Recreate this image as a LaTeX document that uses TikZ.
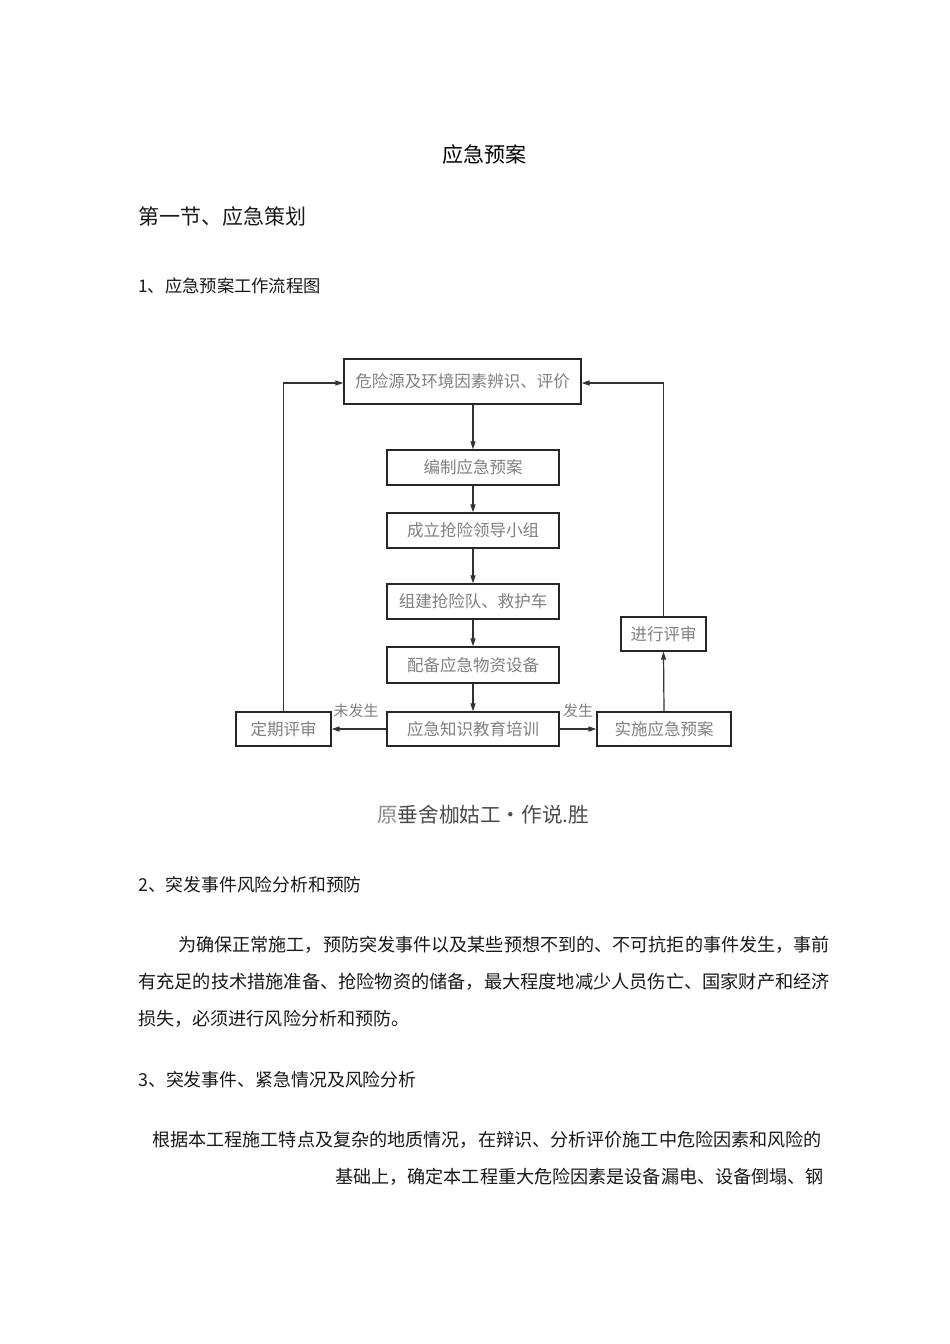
\documentclass[tikz,border=0pt]{standalone}
\usepackage{fontspec}
\setmainfont{Noto Sans CJK SC}
\usetikzlibrary{arrows.meta}
\begin{document}
\begin{tikzpicture}[x=1pt,y=-1pt,
  flowbox/.style={draw=black!85, line width=1.3pt, inner sep=0pt, text=black!50,
    font=\fontsize{16.5}{17}\selectfont},
  conn/.style={draw=black!80, line width=1.2pt, -{Triangle[length=8pt,width=5pt]}},
  lbl/.style={text=black!50, font=\fontsize{15}{15}\selectfont, inner sep=0pt},
  txt/.style={anchor=west, inner sep=0pt, text=black!90},
  body/.style={txt, font=\fontsize{18.1}{19}\selectfont}]
\useasboundingbox (0,0) rectangle (950,1344);
\fill[white] (0,0) rectangle (950,1344);

% headings
\node[inner sep=0pt, font=\fontsize{21}{21}\selectfont] (title) at (484,155) {应急预案};
\node[txt, font=\fontsize{21}{21}\selectfont] (sec) at (138,217) {第一节、应急策划};
\node[txt, font=\fontsize{17.3}{17}\selectfont] (h1) at (138,286) {1、应急预案工作流程图};

% flowchart boxes
\node[flowbox, minimum width=237pt, minimum height=45pt] (b1) at (462.5,381.5) {危险源及环境因素辨识、评价};
\node[flowbox, minimum width=172pt, minimum height=35pt] (b2) at (473,467.5) {编制应急预案};
\node[flowbox, minimum width=172pt, minimum height=35pt] (b3) at (473,530.5) {成立抢险领导小组};
\node[flowbox, minimum width=172pt, minimum height=35pt] (b4) at (473,601.5) {组建抢险队、救护车};
\node[flowbox, minimum width=172pt, minimum height=36pt] (b5) at (473,665) {配备应急物资设备};
\node[flowbox, minimum width=172pt, minimum height=34pt] (b6) at (473,729) {应急知识教育培训};
\node[flowbox, minimum width=95pt, minimum height=34pt] (bl) at (283.5,729) {定期评审};
\node[flowbox, minimum width=134pt, minimum height=34pt] (br) at (664,729) {实施应急预案};
\node[flowbox, minimum width=85pt, minimum height=34pt] (bv) at (663.5,634) {进行评审};

\coordinate (lt) at (283.5,383);
\coordinate (rt) at (663.5,383);

% connectors
\draw[conn] (b2.north |- b1.south) -- (b2.north);
\draw[conn] (b2.south) -- (b3.north);
\draw[conn] (b3.south) -- (b4.north);
\draw[conn] (b4.south) -- (b5.north);
\draw[conn] (b5.south) -- (b6.north);
\draw[conn] (b6.west) -- (bl.east);
\draw[conn] (b6.east) -- (br.west);
\draw[conn] (br.north) -- (bv.south);
\draw[conn] (bl.north) -- (lt) -- (b1.west |- lt);
\draw[conn] (bv.north) -- (rt) -- (b1.east |- rt);

\node[lbl] (l1) at (356,711) {未发生};
\node[lbl] (l2) at (578,711) {发生};

% caption
\node[inner sep=0pt, anchor=west, font=\fontsize{20.6}{21}\selectfont] (cap) at (377,815)
  {\textcolor{black!45}{原}\textcolor{black!70}{垂舍枷姑工•作说.胜}};

% section 2
\node[txt, font=\fontsize{17.8}{18}\selectfont] (h2) at (138,885) {2、突发事件风险分析和预防};
\node[body] (p1) at (178,945) {为确保正常施工，预防突发事件以及某些预想不到的、不可抗拒的事件发生，事前};
\node[body, font=\fontsize{18.2}{19}\selectfont] (p2) at (138,982) {有充足的技术措施准备、抢险物资的储备，最大程度地减少人员伤亡、国家财产和经济};
\node[body] (p3) at (138,1019) {损失，必须进行风险分析和预防。};

% section 3
\node[txt, font=\fontsize{17.9}{18}\selectfont] (h3) at (138,1080) {3、突发事件、紧急情况及风险分析};
\node[body] (p4) at (152,1140) {根据本工程施工特点及复杂的地质情况，在辩识、分析评价施工中危险因素和风险的};
\node[body] (p5) at (335,1177) {基础上，确定本工程重大危险因素是设备漏电、设备倒塌、钢};
\end{tikzpicture}
\end{document}
